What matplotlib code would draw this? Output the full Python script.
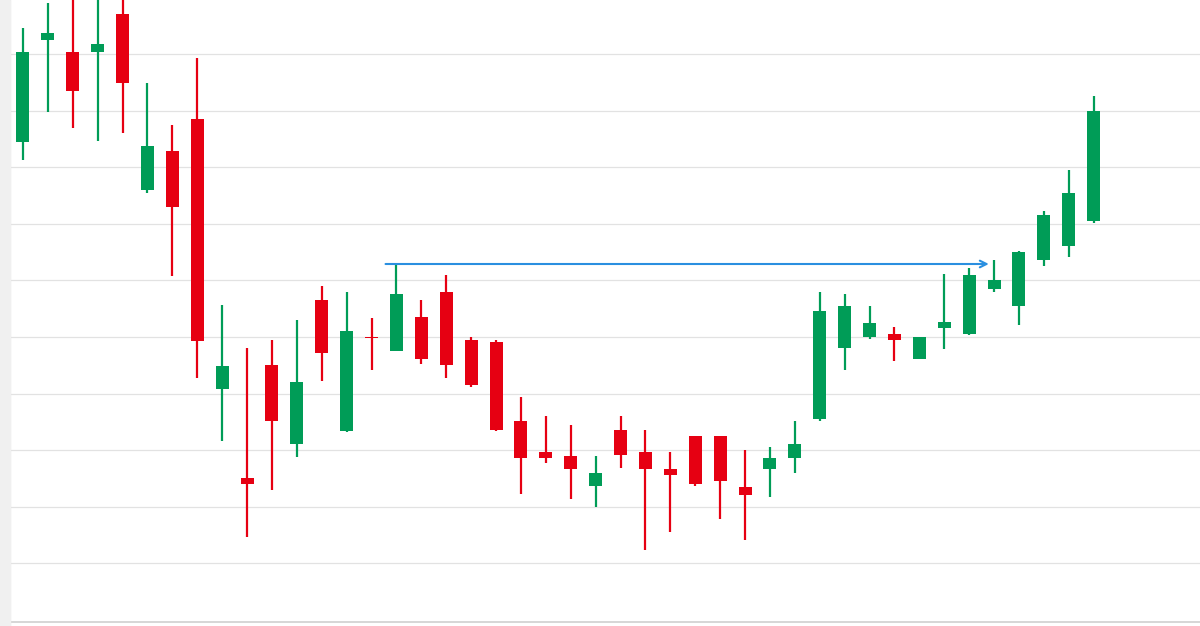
import matplotlib
matplotlib.use("Agg")
import matplotlib.pyplot as plt
from matplotlib.patches import FancyArrowPatch

GREEN, RED, BLUE = "#009c57", "#e60012", "#2a8fe0"

# prices (arbitrary units, higher = up)
opens = [484, 586, 574, 574, 612, 436, 475, 507, 237, 148, 261, 182, 326, 195, 289, 275, 309, 334, 286, 284,
         205, 174, 170, 140, 196, 174, 157, 190, 190, 139, 157, 168, 207, 278, 289, 292, 267, 298, 292, 337,
         320, 366, 380, 405]
closes = [574, 593, 535, 582, 543, 480, 419, 285, 260, 142, 205, 244, 273, 295, 288, 332, 267, 261, 241, 196,
          168, 168, 157, 153, 171, 157, 151, 142, 145, 131, 168, 182, 315, 320, 303, 286, 289, 304, 351, 346,
          374, 411, 433, 515]
highs = [598, 623, 630, 630, 630, 543, 501, 568, 321, 278, 286, 306, 340, 334, 308, 362, 326, 351, 289, 286,
         229, 210, 201, 170, 210, 196, 174, 190, 190, 176, 179, 205, 334, 332, 320, 299, 289, 352, 358, 366,
         375, 415, 456, 530]
lows = [466, 514, 498, 485, 493, 433, 350, 248, 185, 89, 136, 169, 245, 194, 256, 275, 262, 248, 239, 195,
        132, 163, 127, 119, 158, 76, 94, 140, 107, 86, 129, 153, 205, 256, 287, 265, 267, 277, 291, 334,
        301, 360, 369, 403]
level = 362

fig = plt.figure(figsize=(12, 6.26), dpi=100)
ax = fig.add_axes([10 / 1200, 0, 1190 / 1200, 1])
ax.set_xlim(-0.52, 47.27)
ax.set_ylim(0, 626)

for i, (o, c, h, l) in enumerate(zip(opens, closes, highs, lows)):
    col = GREEN if c >= o else RED
    ax.vlines(i, l, h, color=col, lw=1.6, zorder=3)
    lo, hi = min(o, c), max(o, c)
    ax.bar(i, max(hi - lo, 1.5), bottom=lo, width=0.52, color=col, zorder=3)

ax.add_patch(FancyArrowPatch((14.45, level), (38.9, level), arrowstyle="->", mutation_scale=12,
                             color=BLUE, lw=1.5, zorder=4))

for k in range(10):
    ax.axhline(626 - (54 + 56.6 * k), color="#e2e2e2", lw=0.9, zorder=1)
ax.axhline(4, color="#cfcfcf", lw=1.2, zorder=1)

for s in ["top", "right", "bottom"]:
    ax.spines[s].set_visible(False)
ax.spines["left"].set_color("#cfcfcf")
ax.set_xticks([])
ax.set_yticks([])
fig.patches.append(plt.Rectangle((0, 0), 10 / 1200, 1, transform=fig.transFigure, color="#f0f0f0", zorder=0))
fig.savefig("out.png", dpi=100)
